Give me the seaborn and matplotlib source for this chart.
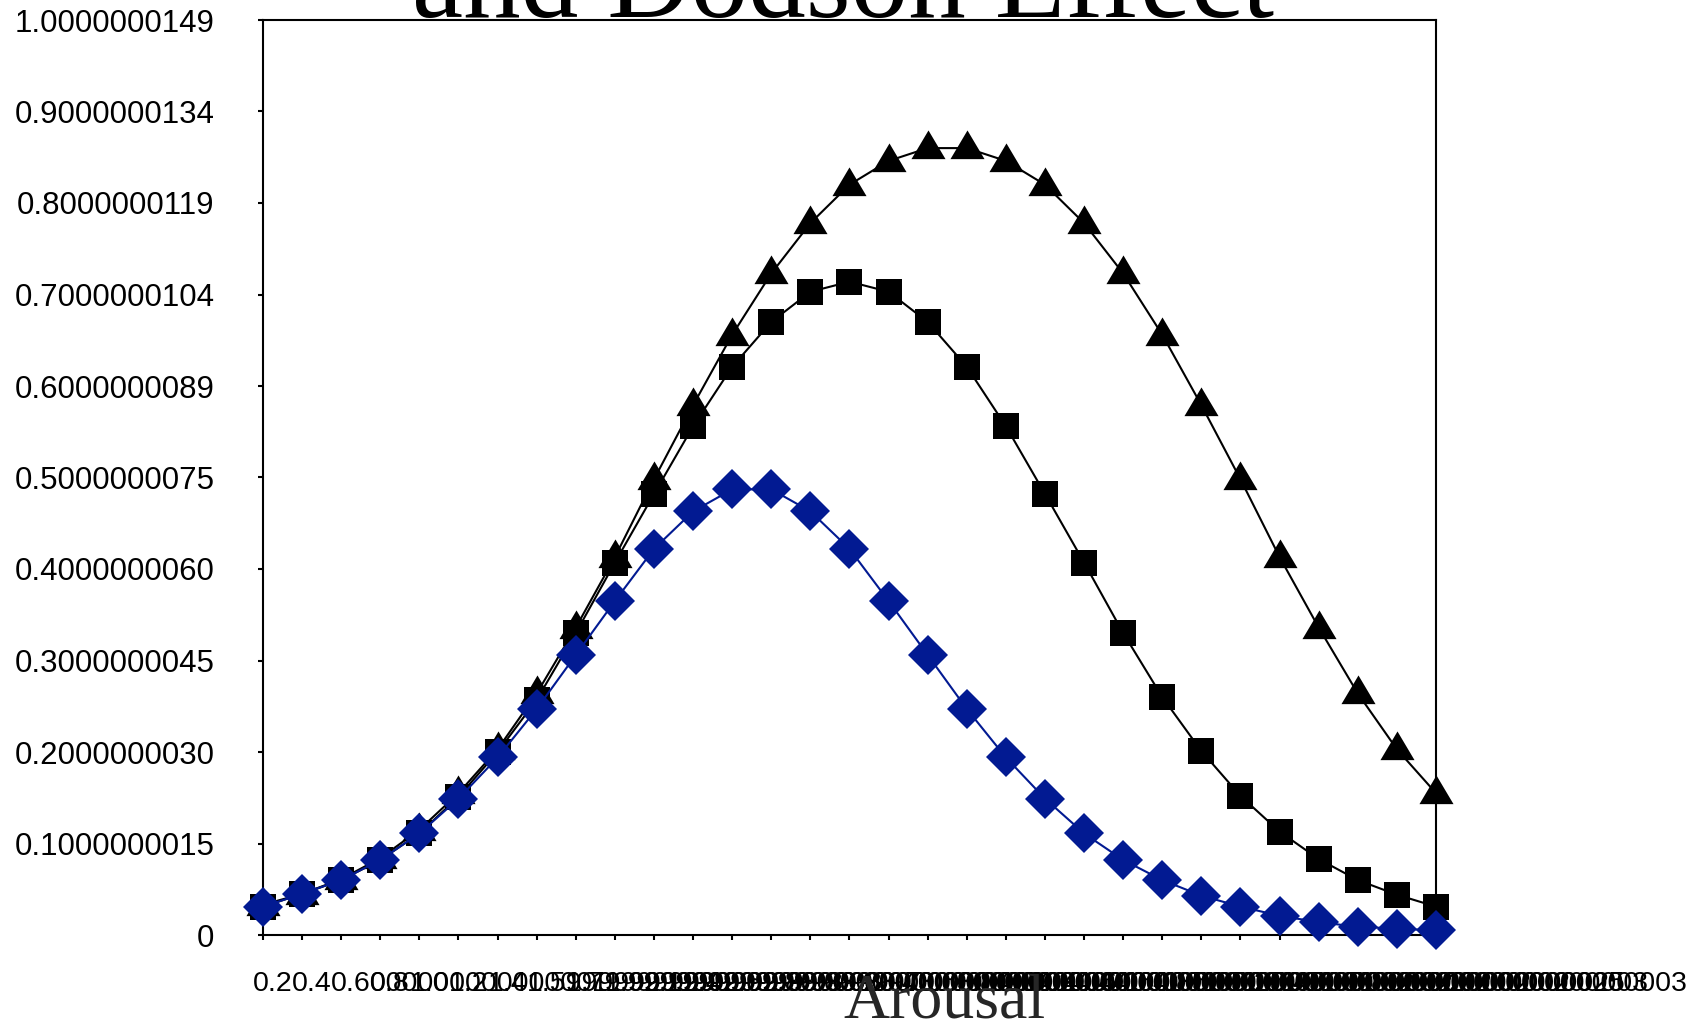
import matplotlib
matplotlib.use("Agg")
import matplotlib.pyplot as plt
import matplotlib.transforms as mtransforms
import seaborn as sns

# ---- data -------------------------------------------------------------
arousal = [0.2, 0.4, 0.6, 0.8, 1.0, 1.2, 1.4, 1.6, 1.8, 2.0, 2.2, 2.4, 2.6,
           2.8, 3.0, 3.2, 3.4, 3.6, 3.8, 4.0, 4.2, 4.4, 4.6, 4.8, 5.0, 5.2,
           5.4, 5.6, 5.8, 6.0, 6.2]

x_tick_labels = ["0.2", "0.4", "0.6000000000000001", "0.8", "1.0", "1.2", "1.4",
                 "1.5999999999999999", "1.7999999999999998", "1.9999999999999998",
                 "2.1999999999999997", "2.4", "2.6", "2.8000000000000003",
                 "3.0000000000000004", "3.2000000000000006", "3.400000000000001",
                 "3.600000000000001", "3.800000000000001", "4.000000000000001",
                 "4.200000000000001", "4.400000000000001", "4.600000000000001",
                 "4.800000000000002", "5.000000000000002", "5.200000000000002",
                 "5.400000000000002", "5.600000000000002", "5.8000000000000025",
                 "6.000000000000003", "6.200000000000003"]

y_ticks = [0.0, 0.1, 0.2, 0.3, 0.4, 0.5, 0.6, 0.7, 0.8, 0.9, 1.0]
y_tick_labels = ["0", "0.1000000015", "0.2000000030", "0.3000000045",
                 "0.4000000060", "0.5000000075", "0.6000000089", "0.7000000104",
                 "0.8000000119", "0.9000000134", "1.0000000149"]

# triangles (simple task)
perf_triangle = [0.033, 0.045, 0.061, 0.084, 0.115, 0.155, 0.203, 0.264, 0.336,
                 0.413, 0.498, 0.579, 0.656, 0.723, 0.778, 0.820, 0.846, 0.860,
                 0.860, 0.846, 0.820, 0.778, 0.723, 0.656, 0.579, 0.498, 0.413,
                 0.336, 0.264, 0.203, 0.155]
# squares (moderate task)
perf_square = [0.031, 0.045, 0.060, 0.082, 0.111, 0.151, 0.200, 0.257, 0.330,
               0.407, 0.482, 0.556, 0.621, 0.670, 0.703, 0.714, 0.703, 0.670,
               0.621, 0.556, 0.482, 0.407, 0.330, 0.260, 0.201, 0.152, 0.113,
               0.083, 0.060, 0.044, 0.031]
# diamonds (difficult task)
perf_diamond = [0.031, 0.045, 0.060, 0.082, 0.111, 0.149, 0.194, 0.247, 0.306,
                0.365, 0.422, 0.463, 0.487, 0.487, 0.463, 0.422, 0.365, 0.306,
                0.247, 0.194, 0.149, 0.111, 0.082, 0.060, 0.043, 0.031, 0.021,
                0.014, 0.009, 0.007, 0.005]

# ---- style -------------------------------------------------------------
sns.set_style("white")
plt.rcParams["font.family"] = ["Liberation Sans", "DejaVu Sans"]

W, H, DPI = 16.96, 10.22, 100
fig = plt.figure(figsize=(W, H), dpi=DPI)
ax = fig.add_axes([263 / 1696, 1 - 935 / 1022, (1436 - 263) / 1696, (935 - 20) / 1022])

navy = "#021A92"
tri_marker = [(-1.0, -0.625), (1.0, -0.625), (0.0, 1.06)]

sns.lineplot(x=arousal, y=perf_triangle, ax=ax, color="black", linewidth=1.5,
             marker=tri_marker, markersize=26, markeredgewidth=0,
             markerfacecolor="black", clip_on=False, zorder=3)
sns.lineplot(x=arousal, y=perf_square, ax=ax, color="black", linewidth=1.5,
             marker="s", markersize=18.5, markeredgewidth=0,
             markerfacecolor="black", clip_on=False, zorder=4)
sns.lineplot(x=arousal, y=perf_diamond, ax=ax, color=navy, linewidth=1.5,
             marker="D", markersize=20, markeredgewidth=0,
             markerfacecolor=navy, clip_on=False, zorder=5)

ax.set_xlim(arousal[0], arousal[-1])
ax.set_ylim(0, 1.0)

for s in ax.spines.values():
    s.set_visible(True)
    s.set_color("black")
    s.set_linewidth(1.5)

ax.set_yticks(y_ticks)
ax.set_yticklabels(y_tick_labels)
ax.set_xticks(arousal)
ax.set_xticklabels(x_tick_labels)

ax.tick_params(axis="y", which="major", left=True, right=False, direction="out",
               length=3.6, width=1.5, color="black", labelsize=22.5, pad=31.5,
               labelcolor="black")
ax.tick_params(axis="x", which="major", bottom=True, top=False, direction="out",
               length=3.6, width=1.5, color="black", labelsize=20.5, pad=22.5,
               labelcolor="black")

offset = mtransforms.ScaledTranslation(-10 / DPI, 0, fig.dpi_scale_trans)
for lab in ax.get_xticklabels():
    lab.set_ha("left")
    lab.set_transform(lab.get_transform() + offset)

ax.grid(False)
ax.set_ylabel("")

ax.set_xlabel("Arousal", fontsize=46, family=["Liberation Serif", "DejaVu Serif"])
ax.xaxis.label.set_va("baseline")
ax.xaxis.set_label_coords((944 - 263) / 1173, (935 - 1017) / 915)

fig.text(843 / 1696, 1 - 17 / 1022, "and Dodson Effect", ha="center", va="baseline",
         fontsize=83, family=["Liberation Serif", "DejaVu Serif"], color="black")

fig.savefig("out.png", dpi=DPI, facecolor="white")
